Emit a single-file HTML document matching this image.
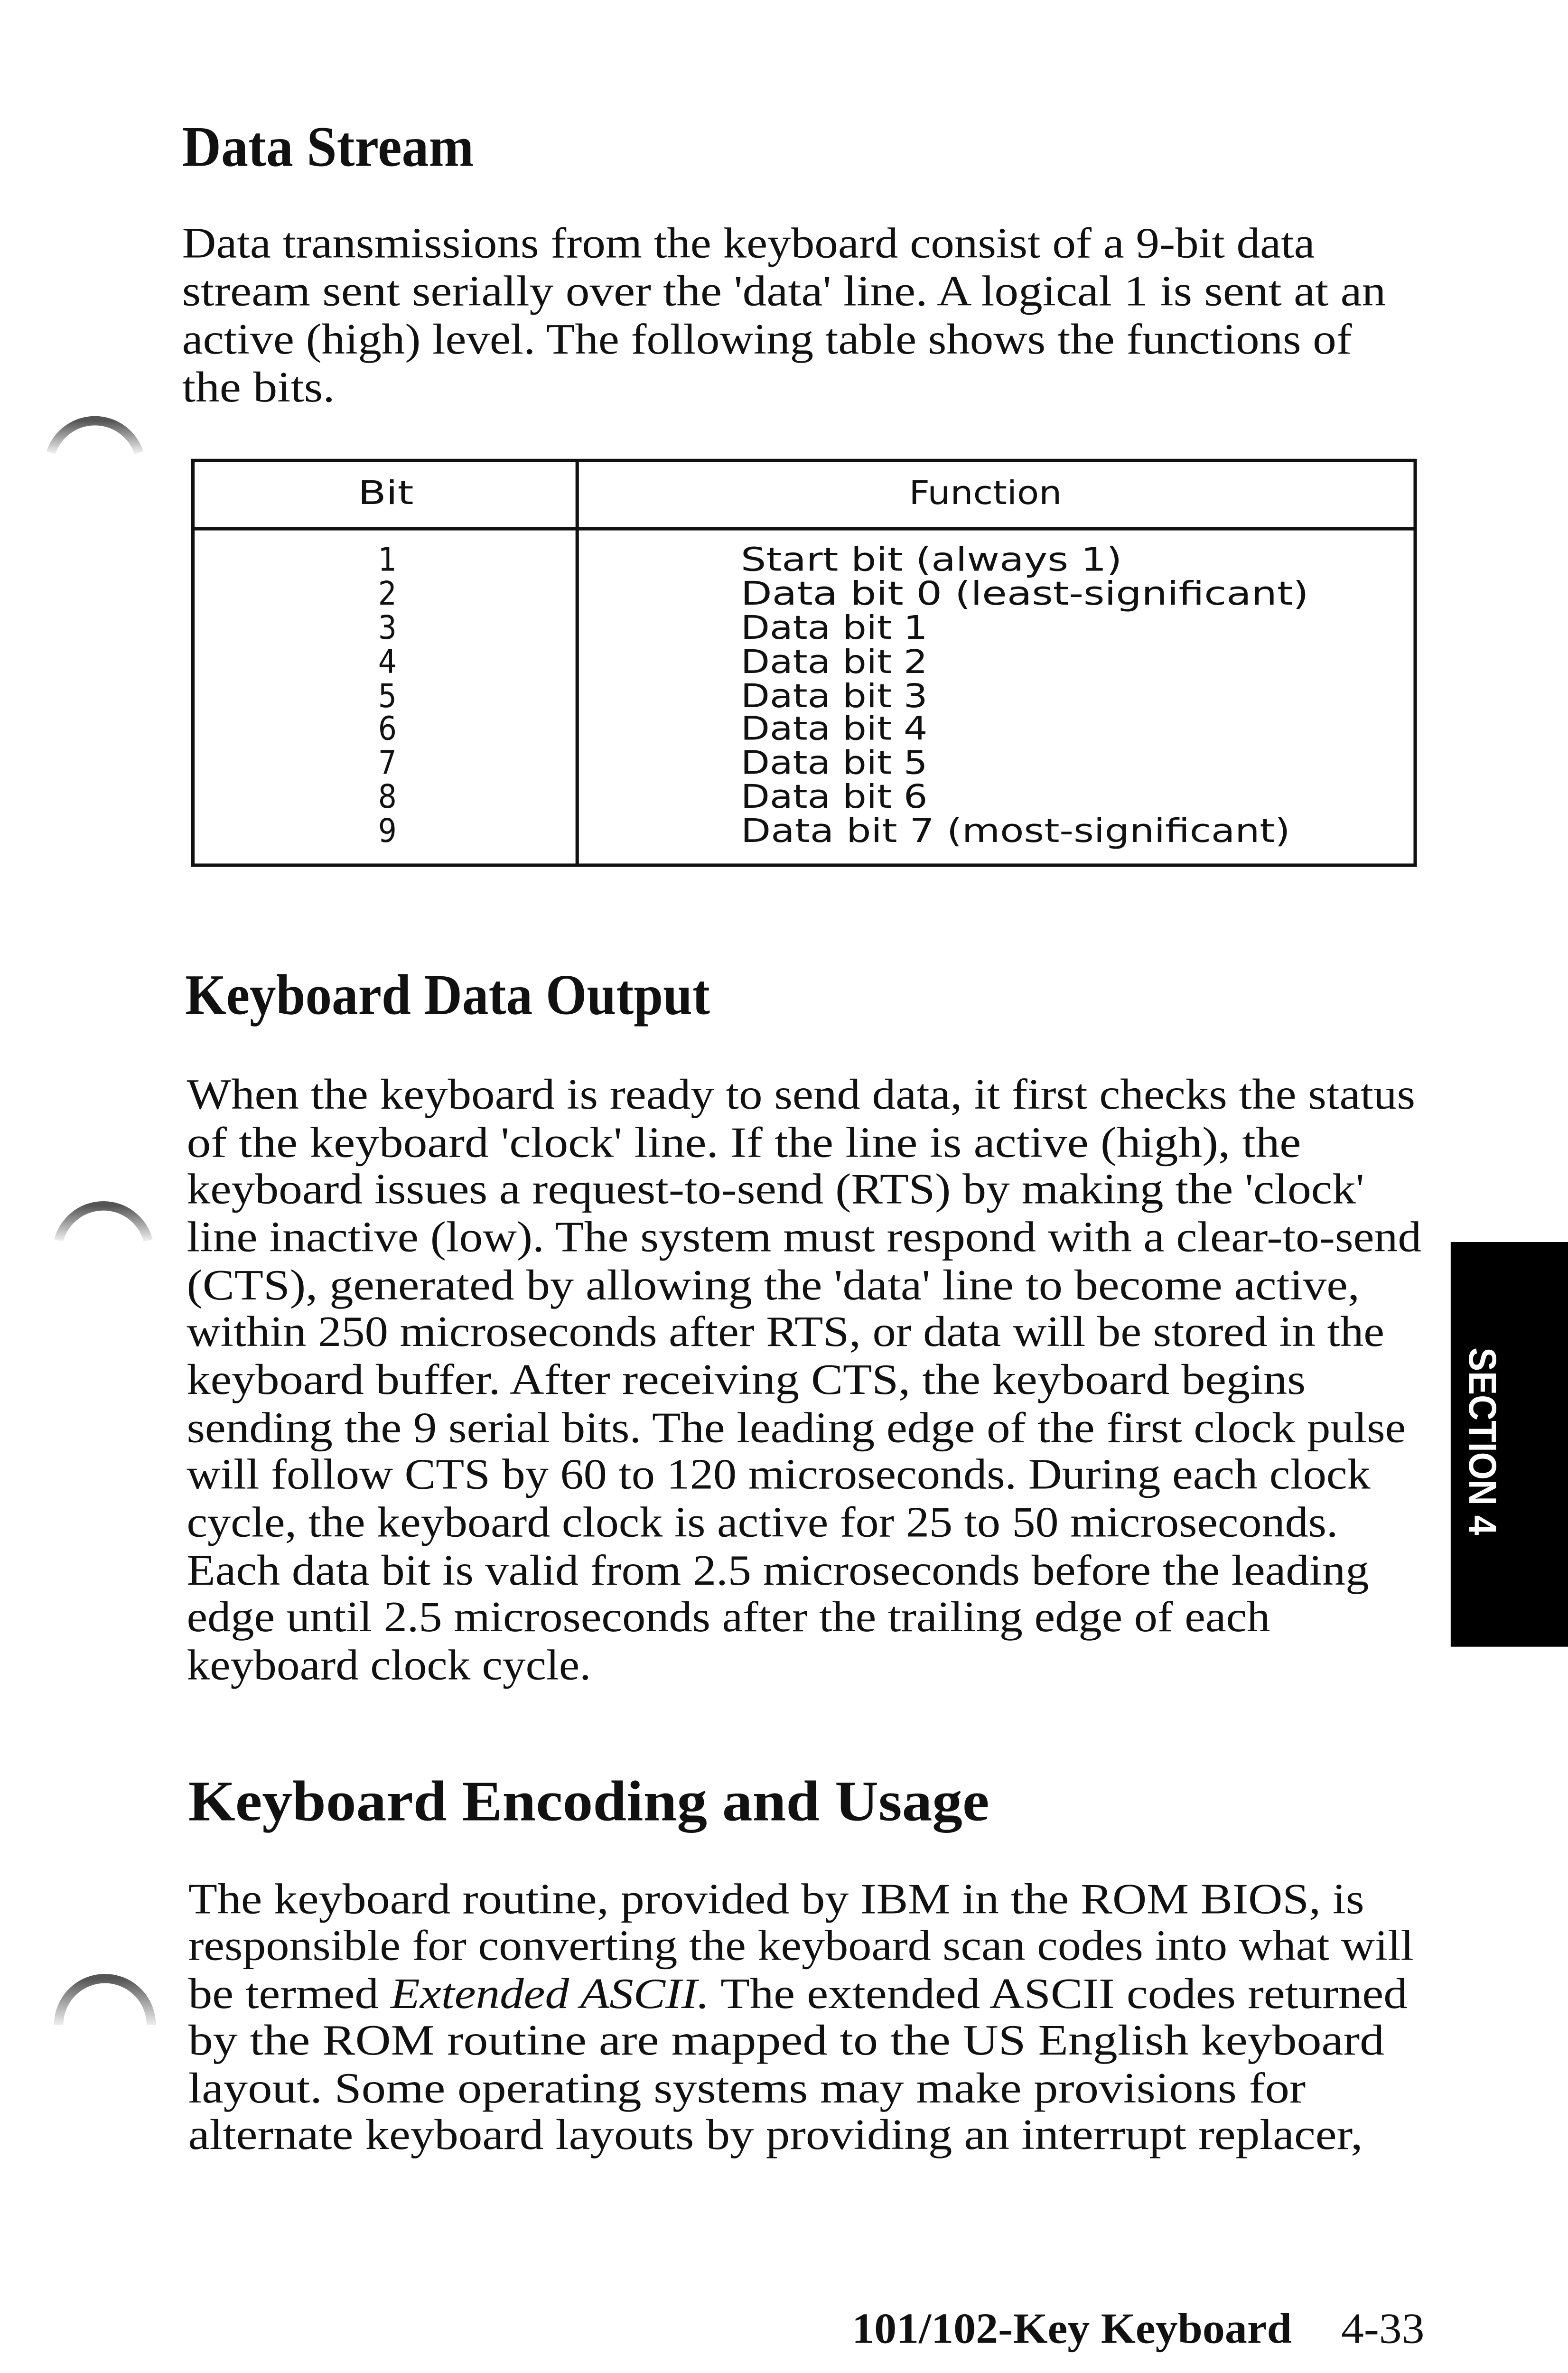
<!DOCTYPE html>
<html><head><meta charset="utf-8"><style>
html,body{margin:0;padding:0;background:#fff;width:3304px;height:5100px;overflow:hidden;}
svg{display:block;}
.b{font-family:"Liberation Serif",serif;font-size:28px;fill:#111;}
.h{font-family:"Liberation Serif",serif;font-weight:bold;font-size:37px;fill:#111;}
.m{font-family:"DejaVu Sans Condensed","Liberation Sans Narrow","Liberation Sans",sans-serif;font-size:21px;fill:#111;}
</style></head><body>
<svg width="3304" height="5100" viewBox="0 0 1016 1561" preserveAspectRatio="none" xmlns="http://www.w3.org/2000/svg">
<rect width="1016" height="1561" fill="#fff"/>
<defs><linearGradient id="g" x1="0" y1="0" x2="0" y2="1"><stop offset="0" stop-color="#555"/><stop offset="1" stop-color="#eee"/></linearGradient></defs>
<path d="M33,292 A30,30 0 0 1 90,292" fill="none" stroke="url(#g)" stroke-width="6"/>
<path d="M38,800 A30,30 0 0 1 96,800" fill="none" stroke="url(#g)" stroke-width="6"/>
<path d="M38,1306 A30,30 0 0 1 98,1306" fill="none" stroke="url(#g)" stroke-width="6"/>

<text class="h" x="118" y="107" textLength="189" lengthAdjust="spacingAndGlyphs">Data Stream</text>
<g class="b">
<text x="118" y="166" textLength="734" lengthAdjust="spacingAndGlyphs">Data transmissions from the keyboard consist of a 9-bit data</text>
<text x="118" y="197" textLength="780" lengthAdjust="spacingAndGlyphs">stream sent serially over the 'data' line.  A logical 1 is sent at an</text>
<text x="118" y="228" textLength="758" lengthAdjust="spacingAndGlyphs">active (high) level.  The following table shows the functions of</text>
<text x="118" y="259" textLength="99" lengthAdjust="spacingAndGlyphs">the bits.</text>
</g>

<g fill="none" stroke="#111" stroke-width="2.2">
<rect x="125" y="297" width="792" height="261"/>
<line x1="125" y1="341" x2="917" y2="341"/>
<line x1="374" y1="297" x2="374" y2="558"/>
</g>
<g class="m">
<text x="232" y="325" textLength="36" lengthAdjust="spacingAndGlyphs">Bit</text>
<text x="589" y="325" textLength="99" lengthAdjust="spacingAndGlyphs">Function</text>
<text x="251" y="368" text-anchor="middle">1</text>
<text x="251" y="390" text-anchor="middle">2</text>
<text x="251" y="412" text-anchor="middle">3</text>
<text x="251" y="434" text-anchor="middle">4</text>
<text x="251" y="456" text-anchor="middle">5</text>
<text x="251" y="477" text-anchor="middle">6</text>
<text x="251" y="499" text-anchor="middle">7</text>
<text x="251" y="521" text-anchor="middle">8</text>
<text x="251" y="543" text-anchor="middle">9</text>
<text x="480" y="368" textLength="247" lengthAdjust="spacingAndGlyphs">Start bit (always 1)</text>
<text x="480" y="390" textLength="368" lengthAdjust="spacingAndGlyphs">Data bit 0 (least-significant)</text>
<text x="480" y="412" textLength="121" lengthAdjust="spacingAndGlyphs">Data bit 1</text>
<text x="480" y="434" textLength="121" lengthAdjust="spacingAndGlyphs">Data bit 2</text>
<text x="480" y="456" textLength="121" lengthAdjust="spacingAndGlyphs">Data bit 3</text>
<text x="480" y="477" textLength="121" lengthAdjust="spacingAndGlyphs">Data bit 4</text>
<text x="480" y="499" textLength="121" lengthAdjust="spacingAndGlyphs">Data bit 5</text>
<text x="480" y="521" textLength="121" lengthAdjust="spacingAndGlyphs">Data bit 6</text>
<text x="480" y="543" textLength="356" lengthAdjust="spacingAndGlyphs">Data bit 7 (most-significant)</text>
</g>

<text class="h" x="120" y="654" textLength="340" lengthAdjust="spacingAndGlyphs">Keyboard Data Output</text>
<g class="b">
<text x="121" y="715" textLength="796" lengthAdjust="spacingAndGlyphs">When the keyboard is ready to send data, it first checks the status</text>
<text x="121" y="746" textLength="722" lengthAdjust="spacingAndGlyphs">of the keyboard 'clock' line.  If the line is active (high), the</text>
<text x="121" y="776" textLength="763" lengthAdjust="spacingAndGlyphs">keyboard issues a request-to-send (RTS) by making the 'clock'</text>
<text x="121" y="807" textLength="800" lengthAdjust="spacingAndGlyphs">line inactive (low).  The system must respond with a clear-to-send</text>
<text x="121" y="838" textLength="760" lengthAdjust="spacingAndGlyphs">(CTS), generated by allowing the 'data' line to become active,</text>
<text x="121" y="868" textLength="776" lengthAdjust="spacingAndGlyphs">within 250 microseconds after RTS, or data will be stored in the</text>
<text x="121" y="899" textLength="725" lengthAdjust="spacingAndGlyphs">keyboard buffer.  After receiving CTS, the keyboard begins</text>
<text x="121" y="930" textLength="790" lengthAdjust="spacingAndGlyphs">sending the 9 serial bits.  The leading edge of the first clock pulse</text>
<text x="121" y="960" textLength="767" lengthAdjust="spacingAndGlyphs">will follow CTS by 60 to 120 microseconds.  During each clock</text>
<text x="121" y="991" textLength="746" lengthAdjust="spacingAndGlyphs">cycle, the keyboard clock is active for 25 to 50 microseconds.</text>
<text x="121" y="1022" textLength="766" lengthAdjust="spacingAndGlyphs">Each data bit is valid from 2.5 microseconds before the leading</text>
<text x="121" y="1052" textLength="702" lengthAdjust="spacingAndGlyphs">edge until 2.5 microseconds after the trailing edge of each</text>
<text x="121" y="1083" textLength="262" lengthAdjust="spacingAndGlyphs">keyboard clock cycle.</text>
</g>

<text class="h" x="122" y="1174" textLength="519" lengthAdjust="spacingAndGlyphs">Keyboard Encoding and Usage</text>
<g class="b">
<text x="122" y="1234" textLength="762" lengthAdjust="spacingAndGlyphs">The keyboard routine, provided by IBM in the ROM BIOS, is</text>
<text x="122" y="1264" textLength="794" lengthAdjust="spacingAndGlyphs">responsible for converting the keyboard scan codes into what will</text>
<text x="122" y="1295" textLength="790" lengthAdjust="spacingAndGlyphs">be termed <tspan font-style="italic">Extended ASCII.</tspan>  The extended ASCII codes returned</text>
<text x="122" y="1325" textLength="775" lengthAdjust="spacingAndGlyphs">by the ROM routine are mapped to the US English keyboard</text>
<text x="122" y="1356" textLength="724" lengthAdjust="spacingAndGlyphs">layout.  Some operating systems may make provisions for</text>
<text x="122" y="1386" textLength="761" lengthAdjust="spacingAndGlyphs">alternate keyboard layouts by providing an interrupt replacer,</text>
</g>

<rect x="940" y="801" width="76" height="261" fill="#000"/>
<text transform="translate(952,869) rotate(90)" x="0" y="0" font-family="Liberation Sans Narrow, Liberation Sans, sans-serif" font-weight="bold" font-size="25" fill="#fff" textLength="121" lengthAdjust="spacingAndGlyphs">SECTION 4</text>

<text x="552" y="1511" font-family="Liberation Serif, serif" font-weight="bold" font-size="28" fill="#111" textLength="285" lengthAdjust="spacingAndGlyphs">101/102-Key Keyboard</text>
<text x="869" y="1511" font-family="Liberation Serif, serif" font-size="28" fill="#111" textLength="54" lengthAdjust="spacingAndGlyphs">4-33</text>
</svg>
</body></html>
